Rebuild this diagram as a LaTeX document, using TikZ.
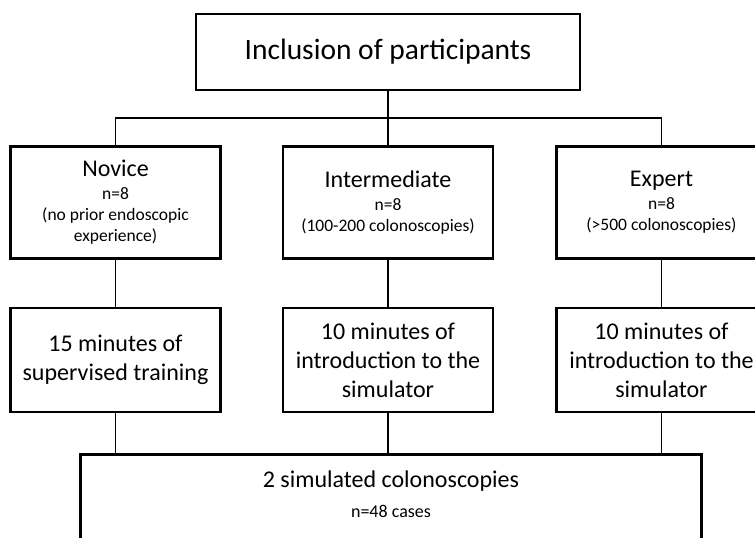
\documentclass[tikz,border=0pt]{standalone}
\usepackage{fontspec}
\setmainfont{Carlito}
\usepackage{tikz}
\usetikzlibrary{positioning, calc}
\newcommand{\grouptitle}[1]{{\fontsize{24}{29}\selectfont #1}}

\begin{document}
\begin{tikzpicture}[
  x=1pt, y=1pt,
  node distance=50pt,
  box/.style={rectangle, draw=black, line width=2.5pt, fill=white, align=center, inner sep=0pt},
  head/.style={box, minimum width=384pt, minimum height=76pt, font=\fontsize{29.5}{35}\selectfont},
  group/.style={box, minimum width=210pt, minimum height=112pt, font=\fontsize{17.5}{21}\selectfont},
  stage/.style={box, minimum width=210pt, minimum height=104pt, font=\fontsize{24}{29}\selectfont},
  result/.style={box, minimum width=621pt, inner ysep=16pt, text depth=67pt, font=\fontsize{24}{30}\selectfont},
  link/.style={draw=black, line width=1.6pt}
]
  \useasboundingbox (0,0) rectangle (755,-538);
  \clip (0,0) rectangle (755,-538);

  \node[head] (incl) at (388,-52) {Inclusion of participants};
  \node[group, below=54pt of incl] (inter) {\grouptitle{Intermediate}\\[2pt] n=8\\ (100-200 colonoscopies)};
  \node[group, left=60pt of inter] (novice) {\grouptitle{Novice}\\[2pt] n=8\\ (no prior endoscopic\\ experience)};
  \node[group, right=61pt of inter] (expert) {\grouptitle{Expert}\\[2pt] n=8\\ (>500 colonoscopies)};

  \node[stage, below=47pt of novice] (nov2) {15 minutes of\\ supervised training};
  \node[stage, below=47pt of inter] (int2) {10 minutes of\\ introduction to the\\ simulator};
  \node[stage, below=47pt of expert] (exp2) {10 minutes of\\ introduction to the\\ simulator};
  \node[result, below=40pt of int2, xshift=3pt] (sim) {2 simulated colonoscopies\\ {\fontsize{18}{21}\selectfont n=48 cases}};

  \coordinate (split) at ($(incl.south)!0.5!(inter.north)$);
  \path[link] (incl) -- (inter);
  \path[link] (novice.north) |- (split) -| (expert.north);
  \path[link] (novice) -- (nov2);
  \path[link] (inter) -- (int2);
  \path[link] (expert) -- (exp2);
  \path[link] (nov2) -- (nov2 |- sim.north);
  \path[link] (int2) -- (int2 |- sim.north);
  \path[link] (exp2) -- (exp2 |- sim.north);
\end{tikzpicture}
\end{document}
